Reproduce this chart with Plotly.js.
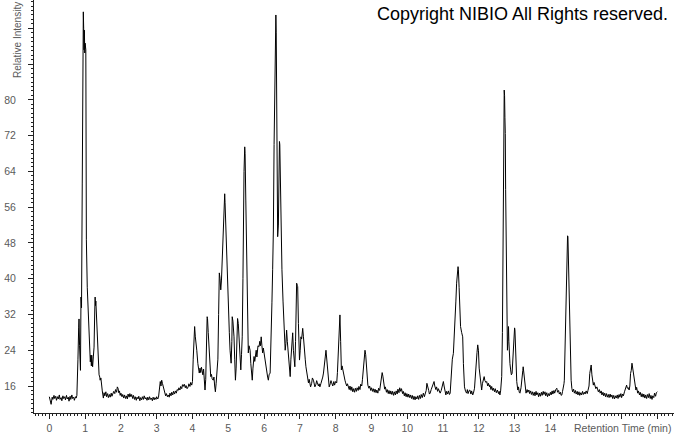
<!DOCTYPE html>
<html><head><meta charset="utf-8">
<script src="https://cdn.plot.ly/plotly-3.0.1.min.js"></script>
<style>html,body{margin:0;padding:0;background:#fff}#chart{width:674px;height:434px}</style>
</head><body><div id="chart"></div>
<script>
const retentionTime = [
0.00,0.03,0.05,0.08,0.10,0.13,0.15,0.18,0.20,0.23,
0.25,0.28,0.30,0.33,0.35,0.38,0.40,0.43,0.45,0.48,
0.50,0.53,0.55,0.58,0.60,0.63,0.65,0.68,0.70,0.73,
0.75,0.77,0.78,0.80,0.82,0.83,0.845,0.86,0.87,0.885,
0.90,0.92,0.94,0.95,0.96,0.97,0.98,0.99,1.00,1.02,
1.035,1.06,1.09,1.12,1.145,1.16,1.175,1.185,1.20,1.21,
1.23,1.25,1.27,1.28,1.29,1.30,1.32,1.35,1.37,1.39,
1.41,1.42,1.44,1.46,1.48,1.51,1.53,1.55,1.58,1.60,
1.63,1.65,1.68,1.70,1.73,1.75,1.78,1.80,1.83,1.85,
1.88,1.90,1.92,1.94,1.96,1.98,2.00,2.03,2.05,2.08,
2.10,2.13,2.15,2.18,2.20,2.23,2.25,2.28,2.30,2.33,
2.35,2.38,2.40,2.43,2.45,2.48,2.50,2.53,2.55,2.58,
2.60,2.63,2.65,2.68,2.70,2.73,2.75,2.78,2.80,2.83,
2.85,2.88,2.90,2.93,2.95,2.98,3.00,3.03,3.05,3.08,
3.10,3.12,3.14,3.16,3.18,3.20,3.22,3.25,3.27,3.30,
3.32,3.35,3.37,3.40,3.42,3.45,3.47,3.50,3.52,3.55,
3.57,3.60,3.62,3.65,3.67,3.70,3.72,3.74,3.77,3.80,
3.82,3.85,3.88,3.90,3.93,3.95,3.98,4.00,4.02,4.04,
4.06,4.08,4.10,4.12,4.15,4.17,4.19,4.21,4.23,4.25,
4.27,4.29,4.31,4.33,4.35,4.37,4.39,4.41,4.42,4.44,
4.47,4.49,4.51,4.53,4.55,4.58,4.60,4.62,4.64,4.66,
4.69,4.71,4.73,4.75,4.77,4.79,4.81,4.83,4.85,4.87,
4.88,4.90,4.91,4.93,4.94,4.97,5.00,5.03,5.05,5.08,
5.10,5.11,5.13,5.16,5.18,5.20,5.22,5.24,5.26,5.28,
5.31,5.33,5.35,5.37,5.39,5.41,5.42,5.44,5.46,5.47,
5.49,5.52,5.54,5.56,5.58,5.61,5.63,5.65,5.67,5.69,
5.72,5.74,5.76,5.78,5.80,5.81,5.83,5.86,5.88,5.90,
5.92,5.94,5.96,5.98,6.01,6.03,6.05,6.08,6.10,6.12,
6.14,6.17,6.19,6.22,6.24,6.26,6.28,6.30,6.32,6.33,
6.34,6.35,6.36,6.38,6.40,6.41,6.43,6.44,6.45,6.47,
6.50,6.53,6.56,6.59,6.61,6.63,6.65,6.68,6.70,6.73,
6.75,6.78,6.80,6.82,6.86,6.88,6.90,6.91,6.93,6.94,
6.96,6.99,7.01,7.03,7.05,7.08,7.10,7.12,7.15,7.17,
7.20,7.24,7.26,7.28,7.30,7.33,7.35,7.38,7.40,7.42,
7.45,7.47,7.49,7.52,7.54,7.56,7.59,7.62,7.64,7.66,
7.69,7.71,7.73,7.75,7.78,7.80,7.82,7.85,7.87,7.89,
7.92,7.95,7.97,8.00,8.03,8.05,8.07,8.09,8.11,8.12,
8.14,8.16,8.18,8.21,8.23,8.26,8.28,8.31,8.33,8.35,
8.38,8.40,8.43,8.45,8.48,8.50,8.53,8.55,8.58,8.60,
8.63,8.65,8.68,8.70,8.73,8.75,8.78,8.80,8.82,8.84,
8.86,8.88,8.90,8.93,8.95,8.98,9.00,9.03,9.05,9.08,
9.10,9.13,9.15,9.18,9.20,9.23,9.25,9.28,9.30,9.32,
9.34,9.37,9.39,9.42,9.44,9.47,9.49,9.52,9.54,9.57,
9.59,9.62,9.64,9.67,9.69,9.72,9.74,9.77,9.79,9.82,
9.84,9.87,9.89,9.92,9.94,9.97,9.99,10.02,10.04,10.07,
10.09,10.12,10.14,10.17,10.19,10.22,10.24,10.27,10.29,10.32,
10.34,10.37,10.39,10.42,10.45,10.48,10.50,10.53,10.55,10.57,
10.60,10.62,10.64,10.67,10.69,10.72,10.75,10.77,10.80,10.82,
10.85,10.87,10.90,10.92,10.95,10.97,10.99,11.01,11.03,11.05,
11.08,11.10,11.13,11.15,11.18,11.20,11.22,11.24,11.26,11.29,
11.31,11.34,11.36,11.38,11.40,11.42,11.43,11.45,11.46,11.49,
11.52,11.55,11.57,11.60,11.63,11.66,11.68,11.70,11.73,11.75,
11.78,11.80,11.83,11.85,11.88,11.90,11.92,11.95,11.97,11.99,
12.01,12.03,12.06,12.08,12.10,12.13,12.15,12.17,12.20,12.22,
12.25,12.27,12.30,12.31,12.34,12.36,12.39,12.41,12.44,12.46,
12.49,12.52,12.55,12.57,12.59,12.61,12.63,12.64,12.66,12.67,
12.69,12.70,12.71,12.72,12.73,12.74,12.75,12.77,12.79,12.80,
12.82,12.83,12.84,12.85,12.87,12.89,12.91,12.93,12.95,12.97,
12.98,13.00,13.01,13.03,13.04,13.06,13.09,13.11,13.13,13.15,
13.18,13.21,13.23,13.24,13.26,13.28,13.30,13.32,13.35,13.37,
13.40,13.42,13.45,13.47,13.50,13.52,13.55,13.57,13.60,13.62,
13.65,13.67,13.70,13.72,13.75,13.77,13.80,13.82,13.85,13.87,
13.90,13.92,13.95,13.97,14.00,14.02,14.05,14.07,14.10,14.12,
14.15,14.18,14.20,14.23,14.25,14.28,14.30,14.32,14.34,14.36,
14.38,14.39,14.41,14.43,14.45,14.47,14.48,14.49,14.50,14.52,
14.55,14.57,14.58,14.60,14.62,14.65,14.67,14.70,14.72,14.75,
14.77,14.80,14.82,14.85,14.87,14.90,14.92,14.95,14.97,15.00,
15.03,15.05,15.08,15.10,15.12,15.14,15.16,15.18,15.20,15.22,
15.25,15.27,15.30,15.32,15.34,15.37,15.39,15.42,15.44,15.47,
15.49,15.52,15.54,15.57,15.59,15.62,15.64,15.67,15.69,15.72,
15.74,15.77,15.79,15.82,15.84,15.87,15.89,15.92,15.94,15.97,
15.99,16.02,16.04,16.07,16.10,16.13,16.15,16.18,16.20,16.22,
16.24,16.26,16.28,16.30,16.32,16.33,16.36,16.39,16.41,16.44,
16.46,16.49,16.51,16.54,16.56,16.59,16.61,16.64,16.66,16.69,
16.71,16.74,16.76,16.79,16.81,16.84,16.86,16.89,16.91,16.94,
16.96,16.99
];
const relativeIntensity = [
13.6,12.4,11.9,13.5,13.0,13.9,13.2,13.7,12.8,13.6,
13.1,14.0,13.0,13.4,12.7,13.8,13.2,13.6,12.9,13.9,
13.1,13.5,12.6,13.7,13.0,14.0,13.2,13.5,12.8,13.6,
13.3,13.9,21.4,22.0,29.0,31.0,25.0,21.1,19.5,35.9,
33.5,61.4,85.0,99.7,96.0,91.2,95.6,90.5,92.7,91.2,
48.7,38.1,33.0,26.3,21.4,22.9,20.5,22.9,21.2,20.3,
22.5,24.7,33.0,35.9,34.0,35.0,31.4,24.0,22.0,18.5,
18.0,17.3,17.8,15.8,14.9,13.3,14.5,13.8,14.7,13.6,
14.3,13.4,14.1,13.5,14.4,13.7,14.2,14.8,14.3,15.2,
14.6,15.8,15.5,14.5,14.9,13.9,14.4,13.6,14.1,13.3,
14.0,13.2,13.8,13.1,14.2,13.5,14.3,13.6,14.1,13.2,
13.9,13.0,13.6,12.8,13.5,13.1,13.7,12.7,13.4,12.9,
13.6,13.0,13.8,13.1,13.4,12.8,13.5,12.9,13.6,13.0,
13.3,12.7,13.5,12.9,13.4,13.0,13.6,13.1,13.4,15.5,
17.0,16.0,17.3,16.6,15.8,15.0,14.4,13.8,14.3,13.6,
14.0,13.5,14.4,13.8,14.6,14.0,14.8,14.2,14.9,14.4,
15.2,15.0,15.6,15.1,15.9,15.4,16.3,15.9,16.4,15.6,
16.1,15.4,15.8,16.5,15.9,16.8,16.2,17.0,22.0,28.5,
29.3,27.0,24.5,24.0,21.0,19.5,18.9,20.0,19.0,20.2,
19.6,18.5,19.8,17.0,15.1,17.5,25.0,31.5,31.1,28.0,
23.4,20.0,18.1,18.6,17.6,17.3,18.0,16.0,14.7,16.5,
18.9,22.0,32.0,41.3,40.0,37.5,39.7,44.2,50.0,55.0,
58.3,59.0,57.0,52.0,47.2,38.2,33.0,27.9,24.0,21.1,
26.0,31.5,30.5,27.0,22.0,17.3,20.0,27.0,31.1,30.0,
26.3,22.0,19.6,23.0,27.0,40.0,53.1,64.0,69.5,68.0,
57.6,38.2,29.0,23.4,25.0,24.0,21.0,19.5,17.3,20.0,
22.6,21.5,23.5,24.0,22.5,23.4,25.0,24.8,26.0,25.0,
27.0,25.0,23.4,24.5,22.6,21.5,20.3,19.0,18.0,17.3,
18.5,18.9,24.0,34.6,42.0,50.9,70.0,88.0,97.0,99.0,
95.0,75.0,55.0,49.4,52.0,62.0,70.7,70.0,63.0,53.1,
42.0,35.0,29.3,24.0,25.5,28.5,26.0,23.4,21.0,18.1,
22.0,26.0,27.9,24.0,20.3,26.0,35.0,39.0,38.5,38.2,
30.0,21.8,24.0,27.0,26.5,28.9,27.0,24.0,22.0,20.3,
19.0,16.7,17.5,16.3,15.8,16.6,17.8,17.3,16.5,15.8,
16.4,17.2,16.7,16.0,16.5,15.8,16.6,17.3,18.0,18.9,
20.5,22.5,24.0,22.0,20.3,17.5,15.8,16.5,17.2,16.7,
16.0,17.0,16.2,17.0,16.7,19.0,24.0,29.3,30.5,31.9,
26.0,19.6,20.5,18.9,18.0,17.3,16.7,16.0,16.5,15.8,
15.2,16.0,15.0,15.8,14.7,15.4,14.6,15.5,14.8,15.6,
15.0,15.9,15.2,16.4,16.0,17.5,20.5,22.0,24.0,23.0,
19.5,17.0,16.2,15.5,16.0,15.0,15.6,14.8,15.4,14.6,
15.3,14.5,15.1,14.4,15.5,15.0,16.0,17.5,19.0,18.2,
16.5,15.3,15.8,14.6,15.2,14.3,15.0,14.2,14.9,14.1,
14.8,13.9,14.7,14.0,14.9,14.2,15.3,14.5,15.6,14.8,
15.4,14.3,14.8,13.8,14.5,13.6,14.3,13.5,14.2,13.4,
14.0,13.2,13.9,13.0,13.7,12.9,13.6,13.1,13.8,13.0,
13.9,13.2,14.1,13.4,14.4,13.6,14.2,15.0,16.6,15.5,
15.0,14.2,14.4,15.2,15.8,16.2,17.0,16.0,15.2,15.8,
14.8,15.4,14.6,14.4,15.0,15.8,16.5,17.0,16.0,15.2,
14.0,14.8,14.2,14.9,14.1,14.4,17.0,21.1,22.0,23.3,
26.0,30.8,35.0,39.0,41.0,42.7,42.0,38.0,35.2,29.3,
28.0,27.0,21.0,15.8,14.8,14.4,15.2,14.3,15.0,15.1,
14.2,14.9,14.0,14.4,15.5,18.0,21.8,23.5,25.2,24.0,
20.0,18.8,17.0,15.1,16.5,17.5,18.1,17.2,16.8,17.0,
16.0,16.6,15.8,16.2,15.2,15.9,15.0,15.5,14.7,15.4,
14.5,15.1,14.3,14.8,14.0,14.9,16.5,18.1,28.0,36.0,
55.0,69.5,82.2,81.0,76.0,72.5,60.0,39.7,30.0,24.0,
27.0,29.3,26.0,23.3,21.0,19.6,18.5,18.8,22.0,26.0,
27.8,29.0,28.5,24.0,19.6,17.0,15.1,15.8,14.6,14.4,
15.6,17.3,19.5,20.3,19.0,17.3,15.5,14.4,15.2,14.6,
15.1,14.3,14.9,14.1,14.7,13.9,14.6,13.8,14.8,14.0,
14.5,13.6,14.4,13.7,14.6,13.9,14.8,14.1,14.7,13.8,
14.5,13.6,14.3,13.8,14.6,14.0,14.9,14.2,15.0,14.4,
15.2,15.5,14.6,15.0,14.2,14.6,13.9,14.0,14.8,15.5,
16.5,17.3,25.0,36.0,44.0,48.7,49.6,49.4,45.0,38.2,
26.3,20.0,17.3,15.5,14.7,15.3,14.4,15.0,14.2,14.8,
14.0,14.7,13.9,14.5,14.0,14.8,14.1,14.6,14.2,14.9,
14.3,15.0,16.0,18.8,19.5,20.7,18.5,17.3,16.2,16.8,
16.2,15.4,15.8,14.9,14.7,15.2,14.4,14.9,14.0,14.6,
13.8,14.4,13.6,14.3,13.5,14.1,13.4,14.2,13.5,14.0,
13.2,13.9,13.1,13.8,13.3,14.0,13.2,14.1,13.5,14.3,
13.4,14.2,13.8,14.7,15.4,16.2,15.5,15.6,15.1,16.0,
18.8,19.5,21.1,20.0,17.8,17.3,16.0,15.1,15.7,14.4,
14.9,14.0,14.6,13.6,14.3,13.5,14.2,13.3,14.0,13.2,
14.1,13.4,14.3,13.2,13.9,13.0,13.8,13.4,14.4,13.7,
14.5,14.7
];
const yTickValues = [16, 24, 32, 40, 48, 56, 64, 72, 80, 88, 96];
const yTickLabels = ['16', '24', '32', '40', '48', '56', '64', '72', '80', '', ''];
const xTickValues = [0, 1, 2, 3, 4, 5, 6, 7, 8, 9, 10, 11, 12, 13, 14, 15, 16, 17];
const xTickLabels = ['0', '1', '2', '3', '4', '5', '6', '7', '8', '9', '10', '11', '12', '13', '14', '', '', ''];
const yAxisName = 'Relative Intensity';
const xAxisName = 'Retention Time (min)';
const copyrightText = 'Copyright NIBIO All Rights reserved.';

const n = Math.min(retentionTime.length, relativeIntensity.length);
const trace = {
  x: retentionTime.slice(0, n),
  y: relativeIntensity.slice(0, n),
  type: 'scatter',
  mode: 'lines',
  line: {color: '#000000', width: 1},
  hoverinfo: 'skip'
};
const tickFont = {family: 'Arial, "Liberation Sans", sans-serif', size: 10.5, color: '#5a5a5a'};
const layout = {
  width: 674, height: 434,
  margin: {l: 34, r: 0, t: 0, b: 21, pad: 0},
  paper_bgcolor: '#ffffff', plot_bgcolor: '#ffffff',
  showlegend: false,
  xaxis: {
    range: [-0.428, 17.454], showgrid: false, zeroline: false,
    showline: true, linecolor: '#222', linewidth: 1,
    tickmode: 'array', tickvals: xTickValues, ticktext: xTickLabels,
    ticks: 'outside', ticklen: 5, tickcolor: '#222', tickwidth: 1,
    tickfont: tickFont,
    minor: {dtick: 0.1, tick0: 0, ticks: 'outside', ticklen: 2, tickcolor: '#222', showgrid: false}
  },
  yaxis: {
    range: [9.96, 102.35], showgrid: false, zeroline: false,
    showline: true, linecolor: '#222', linewidth: 1,
    tickmode: 'array', tickvals: yTickValues, ticktext: yTickLabels,
    ticks: 'outside', ticklen: 5, tickcolor: '#222', tickwidth: 1,
    tickfont: tickFont, ticklabelstandoff: 10,
    minor: {dtick: 1, tick0: 0, ticks: 'outside', ticklen: 2, tickcolor: '#222', showgrid: false}
  },
  annotations: [
    {text: copyrightText, xref: 'paper', yref: 'paper', x: 0.9945, y: 0.966,
     xanchor: 'right', yanchor: 'middle', showarrow: false,
     font: {family: 'Arial, "Liberation Sans", sans-serif', size: 18, color: '#000'}},
    {text: xAxisName, xref: 'paper', yref: 'paper', x: 0.9985, y: 0,
     xanchor: 'right', yanchor: 'top', yshift: -7, showarrow: false,
     font: tickFont},
    {text: yAxisName, xref: 'paper', yref: 'paper', x: -0.0266, y: 1,
     xanchor: 'center', yanchor: 'top', textangle: -90, showarrow: false,
     font: {family: 'Arial, "Liberation Sans", sans-serif', size: 10, color: '#5a5a5a'}}
  ]
};
Plotly.newPlot('chart', [trace], layout, {staticPlot: true, displayModeBar: false});
</script>
</body></html>
